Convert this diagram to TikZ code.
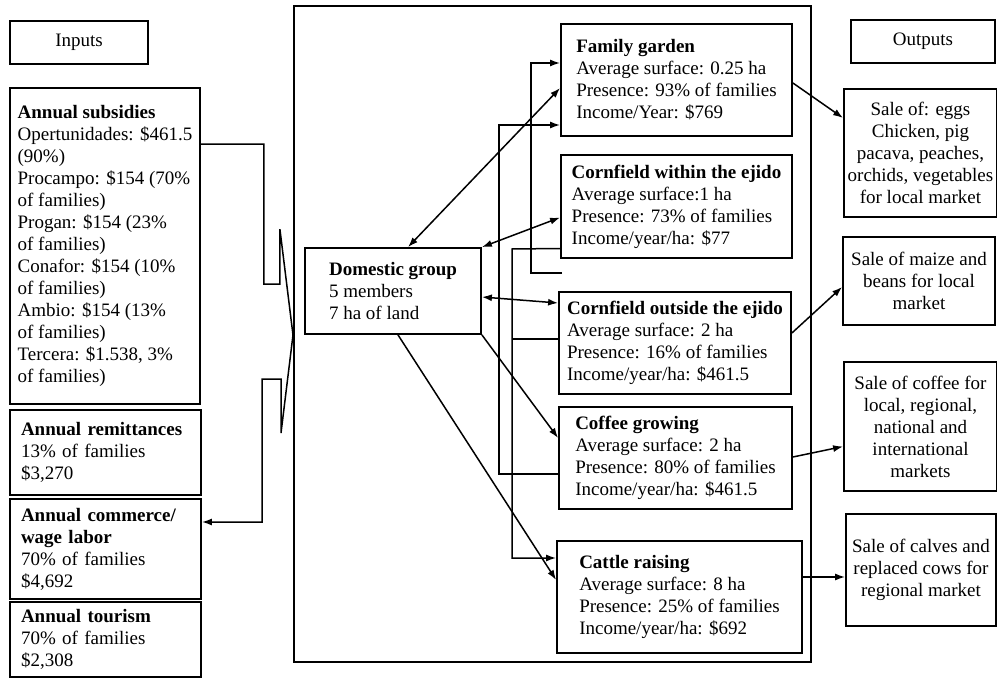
\documentclass[tikz,border=0pt]{standalone}
\usepackage{fontspec}
\setmainfont{Liberation Serif}
\usetikzlibrary{arrows.meta}

\begin{document}
\begin{tikzpicture}[
        x=1pt, y=-1pt,
        font=\fontsize{19}{22}\selectfont,
        box/.style={draw, line width=1.8pt, rectangle, inner sep=3pt, align=left},
        leftbox/.style={box, inner xsep=11pt, text width=169pt},
        tagbox/.style={box, align=center},
        link/.style={line width=1.5pt},
        arrow/.style={link, -{Latex[length=10pt,width=7pt]}},
        twoway/.style={link, {Latex[length=10pt,width=7pt]}-{Latex[length=10pt,width=7pt]}}
    ]
        \useasboundingbox (0,0) rectangle (997,679);

        % Frame of the farm unit
        \node[box, minimum width=517pt, minimum height=656pt] (farm) at (552.5,334) {};

        % Inputs
        \node[tagbox, minimum width=138pt, minimum height=43pt] (inputs) at (79,42.5) {Inputs};
        \node[box, minimum width=190pt, minimum height=316pt] (subs) at (105,246)
            {\textbf{Annual subsidies}\\Opertunidades: \$461.5\\(90\%)\\Procampo: \$154 (70\%\\of families)\\Progan: \$154 (23\%\\of families)\\Conafor: \$154 (10\%\\of families)\\Ambio: \$154 (13\%\\of families)\\Tercera: \$1.538, 3\%\\of families)};
        \node[leftbox, minimum height=85pt] (remit) at (105.5,452.5)
            {\textbf{Annual remittances}\\13\% of families\\\$3,270};
        \node[leftbox, minimum height=100pt] (comm) at (105.5,549)
            {\textbf{Annual commerce/}\\\textbf{wage labor}\\70\% of families\\\$4,692};
        \node[leftbox, minimum height=75pt] (tour) at (105.5,639.5)
            {\textbf{Annual tourism}\\70\% of families\\\$2,308};

        % Domestic group and its activities
        \node[box, minimum width=176pt, minimum height=86pt] (dom) at (393,291)
            {\textbf{Domestic group}\\5 members\\7 ha of land};
        \node[box, minimum width=231pt, minimum height=112pt] (fam) at (676.5,80)
            {\textbf{Family garden}\\Average surface: 0.25 ha\\Presence: 93\% of families\\Income/Year: \$769};
        \node[box, minimum width=231pt, minimum height=103pt] (cfin) at (676.5,206.5)
            {\textbf{Cornfield within the ejido}\\Average surface:1 ha\\Presence: 73\% of families\\Income/year/ha: \$77};
        \node[box, minimum width=232pt, minimum height=102pt] (cfout) at (675,343)
            {\textbf{Cornfield outside the ejido}\\Average surface: 2 ha\\Presence: 16\% of families\\Income/year/ha: \$461.5};
        \node[box, minimum width=233pt, minimum height=102pt] (cof) at (675.5,458)
            {\textbf{Coffee growing}\\Average surface: 2 ha\\Presence: 80\% of families\\Income/year/ha: \$461.5};
        \node[box, minimum width=245pt, minimum height=112pt] (cat) at (679.5,597)
            {\textbf{Cattle raising}\\Average surface: 8 ha\\Presence: 25\% of families\\Income/year/ha: \$692};

        % Outputs
        \node[tagbox, minimum width=144pt, minimum height=43pt] (outputs) at (923,41.5) {Outputs};
        \node[tagbox, minimum width=153pt, minimum height=128pt] (eggs) at (920.5,153)
            {Sale of: eggs\\Chicken, pig\\pacava, peaches,\\orchids, vegetables\\for local market};
        \node[tagbox, minimum width=152pt, minimum height=88pt] (maize) at (919,281)
            {Sale of maize and\\beans for local\\market};
        \node[tagbox, minimum width=153pt, minimum height=129pt] (cofsale) at (920.5,426.5)
            {Sale of coffee for\\local, regional,\\national and\\international\\markets};
        \node[tagbox, minimum width=150pt, minimum height=112pt] (calves) at (921,570)
            {Sale of calves and\\replaced cows for\\regional market};

        % Inputs funnel into the unit
        \draw[arrow] ([yshift=-57pt]subs.north east) -- ++(63,0) -- ++(0,140) -- ++(16,0) -- ++(0,-55)
            -- (293,335) -- (281,433) -- ++(0,-54) -- ++(-19,0) -- ++(0,143) -- ([yshift=27pt]comm.east);

        % Domestic group to activities
        \draw[twoway] ([xshift=15pt]dom.north) -- ([yshift=-8pt]fam.west);
        \draw[twoway] (dom.north east) -- ([yshift=-11pt]cfin.west);
        \draw[twoway] ([yshift=-6pt]dom.east) -- ([yshift=40pt]cfout.west);
        \draw[arrow] (dom.south east) -- ([yshift=20pt]cof.west);
        \draw[arrow] ([xshift=5pt]dom.south) -- ([yshift=17pt]cat.west);

        % Links between activities
        \coordinate (gap) at (562,273);
        \draw[arrow] (gap) -- (531,273) |- ([yshift=17pt]fam.west);
        \draw[arrow] ([yshift=-16pt]cof.west) -- (499,474) |- ([yshift=-45pt]fam.west);
        \draw[arrow] ([yshift=-42pt]cfin.west) -- (512,249) |- ([yshift=39pt]cat.west);
        \draw[link] ([yshift=4pt]cfout.west) -- (512,339);

        % Activities to markets
        \foreach \src/\sy/\dst/\dy in {fam/-3/eggs/35, cfout/10/maize/-6, cof/1/cofsale/-20, cat/20/calves/-7}
            \draw[arrow] ([yshift=\sy pt]\src.east) -- ([yshift=\dy pt]\dst.west);
    \end{tikzpicture}
\end{document}
